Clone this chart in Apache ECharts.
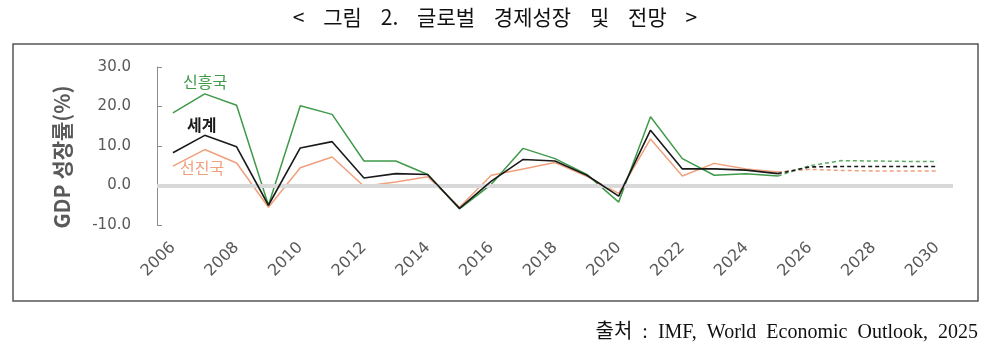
<!DOCTYPE html>
<html>
<head>
<meta charset="utf-8">
<script src="https://cdn.jsdelivr.net/npm/echarts@6/dist/echarts.min.js"></script>
<style>
html,body{margin:0;padding:0;background:#fff;}
#c{width:994px;height:363px;}
</style>
</head>
<body>
<div id="c"></div>
<script>
const years = ['2006','2007','2008','2009','2010','2011','2012','2013','2014','2015','2016','2017','2018','2019','2020','2021','2022','2023','2024','2025','2026','2027','2028','2029','2030'];
// actual values 2006-2025
const emerging = [18.4,23.2,20.3,-5.0,20.2,18.0,6.2,6.2,2.8,-5.9,0.3,9.4,6.8,2.8,-4.2,17.4,6.8,2.6,3.0,2.4];
const world    = [8.3,12.7,9.8,-5.0,9.5,11.1,1.9,3.0,2.8,-5.8,1.1,6.6,6.2,2.6,-2.7,14.0,4.2,4.2,3.9,3.0];
const advanced = [4.9,9.1,5.7,-5.5,4.5,7.2,-0.2,0.9,2.2,-5.5,2.6,4.2,5.8,2.3,-2.0,11.8,2.4,5.6,4.2,3.4];
// forecast values 2025-2030
const emergingF = [2.4,5.0,6.3,6.2,6.1,6.1];
const worldF    = [3.0,4.7,4.8,4.8,4.8,4.8];
const advancedF = [3.4,4.1,3.8,3.7,3.7,3.7];
const yTicks = [-10,0,10,20,30];

const nActual = emerging.length;
function actual(arr){ return years.map((y,i)=> i<nActual ? arr[i] : null); }
function forecast(arr){ return years.map((y,i)=> i>=nActual-1 ? arr[i-(nActual-1)] : null); }

const GREEN='#3f9a4a', BLACK='#1a1a1a', ORANGE='#f0a07c';
const chart = echarts.init(document.getElementById('c'));
chart.setOption({
  animation:false,
  backgroundColor:'#fff',
  title:[{
    text:'<    그림    2.    글로벌    경제성장    및    전망    >',
    left:490, top:2, textAlign:'center',
    textStyle:{fontFamily:'Noto Sans CJK KR',fontSize:21,fontWeight:'normal',color:'#111'}
  },{
    text:'출처  :  IMF,  World  Economic  Outlook,  2025',
    right:11, top:318,
    textStyle:{fontFamily:'Liberation Serif, Noto Sans CJK KR',fontSize:20,fontWeight:'normal',color:'#111'}
  }],
  graphic:[
    {type:'rect',shape:{x:13,y:44,width:965,height:257},style:{fill:'none',stroke:'#555',lineWidth:1.5},z:0},
    {type:'text',x:183,y:74,style:{text:'신흥국',fill:GREEN,font:'16px "Noto Sans CJK KR"'}},
    {type:'text',x:187,y:117,style:{text:'세계',fill:BLACK,font:'bold 16px "Noto Sans CJK KR"'}},
    {type:'text',x:180,y:160,style:{text:'선진국',fill:ORANGE,font:'16px "Noto Sans CJK KR"'}},
    {type:'text',x:62,y:157,rotation:Math.PI/2,
     style:{text:'GDP 성장률(%)',fill:'#595959',font:'bold 21px "Noto Sans CJK KR"',align:'center',verticalAlign:'middle'}}
  ],
  grid:{left:157,right:41,top:67,bottom:138},
  xAxis:{
    type:'category',data:years,boundaryGap:true,
    axisLine:{show:false,onZero:false},
    axisTick:{show:false},
    axisLabel:{interval:1,rotate:45,margin:20,color:'#595959',fontSize:16,fontFamily:'DejaVu Sans'}
  },
  yAxis:{
    type:'value',min:yTicks[0],max:yTicks[yTicks.length-1],interval:10,
    axisLine:{show:true,lineStyle:{color:'#8c8c8c',width:1}},
    axisTick:{show:true,inside:true,length:5,lineStyle:{color:'#8c8c8c'}},
    splitLine:{show:false},
    axisLabel:{margin:26,color:'#595959',fontSize:15,fontFamily:'DejaVu Sans',formatter:v=>v.toFixed(1)}
  },
  series:[
    {type:'line',data:[],z:1,silent:true,
     markLine:{silent:true,symbol:'none',label:{show:false},
       lineStyle:{color:'#d9d9d9',width:4,type:'solid'},data:[{yAxis:0}]}},
    {name:'선진국',type:'line',data:actual(advanced),symbol:'none',z:3,lineStyle:{color:ORANGE,width:1.5}},
    {name:'신흥국',type:'line',data:actual(emerging),symbol:'none',z:4,lineStyle:{color:GREEN,width:1.5}},
    {name:'세계',type:'line',data:actual(world),symbol:'none',z:5,lineStyle:{color:BLACK,width:1.6}},
    {name:'선진국 전망',type:'line',data:forecast(advancedF),symbol:'none',z:3,lineStyle:{color:ORANGE,width:1.5,type:[4,3]}},
    {name:'신흥국 전망',type:'line',data:forecast(emergingF),symbol:'none',z:4,lineStyle:{color:'#5aaa60',width:1.5,type:[4,3]}},
    {name:'세계 전망',type:'line',data:forecast(worldF),symbol:'none',z:5,lineStyle:{color:BLACK,width:1.6,type:[4,3]}}
  ]
});
</script>
</body>
</html>
